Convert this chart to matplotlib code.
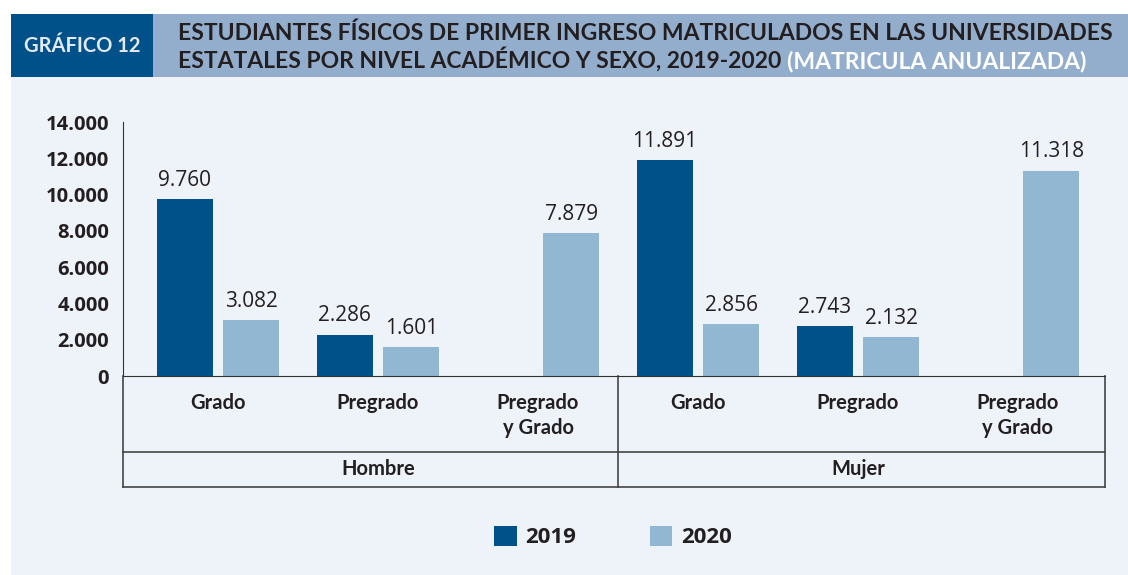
import matplotlib.pyplot as plt
import numpy as np
from matplotlib.patches import Rectangle, Patch
from matplotlib.ticker import FuncFormatter

# data
categories = ["Grado", "Pregrado", "Pregrado\ny Grado", "Grado", "Pregrado", "Pregrado\ny Grado"]
groups = ["Hombre", "Mujer"]
vals_2019 = [9760, 2286, 0, 11891, 2743, 0]
vals_2020 = [3082, 1601, 7879, 2856, 2132, 11318]
years = ["2019", "2020"]

dark = "#00508a"
light = "#92b7d3"
panel = "#eef3fa"
txt = "#231f20"

W, H = 1128, 575
fig = plt.figure(figsize=(W / 100, H / 100), dpi=100)
fig.patch.set_facecolor("white")

def fx(px):
    return px / W

def fy(py):
    return 1 - py / H

# background boxes
for (x0, y0, bw, bh, c) in ((11, 77, W - 11, H - 77, panel),
                            (11, 14, 142, 63, dark),
                            (153, 14, W - 153, 63, "#93adcd")):
    fig.patches.append(Rectangle((fx(x0), fy(y0 + bh)), fx(bw), bh / H, transform=fig.transFigure,
                                 facecolor=c, edgecolor="none", zorder=-5))

fig.text(fx(82), fy(46), "GRÁFICO 12", color="#e3eaf3", fontsize=14.5, fontweight="bold",
         family="Lato", ha="center", va="center")
fig.text(fx(178), fy(40), "ESTUDIANTES FÍSICOS DE PRIMER INGRESO MATRICULADOS EN LAS UNIVERSIDADES",
         color=txt, fontsize=16.5, fontweight="bold", family="Lato", ha="left", va="baseline")
t2 = fig.text(fx(178), fy(68), "ESTATALES POR NIVEL ACADÉMICO Y SEXO, 2019-2020 ",
              color=txt, fontsize=16.5, fontweight="bold", family="Lato", ha="left", va="baseline")
# white part placed right after the dark part
fig.add_artist(plt.Annotation("(MATRICULA ANUALIZADA)", xy=(1, 0), xycoords=t2,
                              ha="left", va="bottom", color="white", fontsize=16.5,
                              fontweight="bold", family="Lato"))

ax = fig.add_axes([fx(123), fy(376), fx(1105 - 123), (376 - 122) / H])
ax.set_facecolor("none")

x = np.arange(len(categories))
w = 0.35
off = 0.208
b19 = ax.bar(x - off, vals_2019, w, color=dark, zorder=2)
b20 = ax.bar(x + off, vals_2020, w, color=light, zorder=2)

fmt = lambda v: f"{v:,.0f}".replace(",", ".")
for bars, vals in ((b19, vals_2019), (b20, vals_2020)):
    for r, v in zip(bars, vals):
        if v == 0:
            continue
        ax.text(r.get_x() + r.get_width() / 2, v + 450, fmt(v), ha="center", va="bottom",
                fontsize=15, color=txt, family="Open Sans")

ax.set_xlim(-0.594, 5.544)
ax.set_ylim(0, 14000)
ax.set_yticks(np.arange(0, 14001, 2000))
ax.yaxis.set_major_formatter(FuncFormatter(lambda v, p: fmt(v)))
ax.tick_params(axis="y", length=0, pad=10, labelsize=14.5)
for lab in ax.get_yticklabels():
    lab.set_fontweight("bold")
    lab.set_family("Open Sans")
    lab.set_color(txt)
ax.set_xticks([])
for s in ("top", "right"):
    ax.spines[s].set_visible(False)
ax.spines["left"].set_color("#333333")
ax.spines["bottom"].set_color("#333333")
ax.spines["left"].set_bounds(0, 14000)

# category table under the axis
tr = ax.get_xaxis_transform()
lc = "#444444"
y1, y2 = -0.299, -0.437
for xv in (-0.594, 2.5, 5.544):
    ax.plot([xv, xv], [0, y2], color=lc, lw=1.2, transform=tr, clip_on=False)
for yv in (y1, y2):
    ax.plot([-0.594, 5.544], [yv, yv], color=lc, lw=1.2, transform=tr, clip_on=False)
for xi, c in zip(x, categories):
    ax.text(xi, -0.065, c, transform=tr, ha="center", va="top", fontsize=14.5,
            fontweight="bold", family="Lato", color=txt, linespacing=1.35)
for gx, g in zip((1, 4), groups):
    ax.text(gx, (y1 + y2) / 2, g, transform=tr, ha="center", va="center", fontsize=14.5,
            fontweight="bold", family="Lato", color=txt)

handles = [Patch(facecolor=dark), Patch(facecolor=light)]
leg = fig.legend(handles, years, loc="center", bbox_to_anchor=(fx(613), fy(537)), ncol=2,
                 frameon=False, handlelength=1.0, handleheight=1.0, columnspacing=3.3,
                 handletextpad=0.4, prop={"family": "Open Sans", "weight": "bold", "size": 16})
for t in leg.get_texts():
    t.set_color(txt)

fig.savefig("out.png", dpi=100, facecolor=fig.get_facecolor())
